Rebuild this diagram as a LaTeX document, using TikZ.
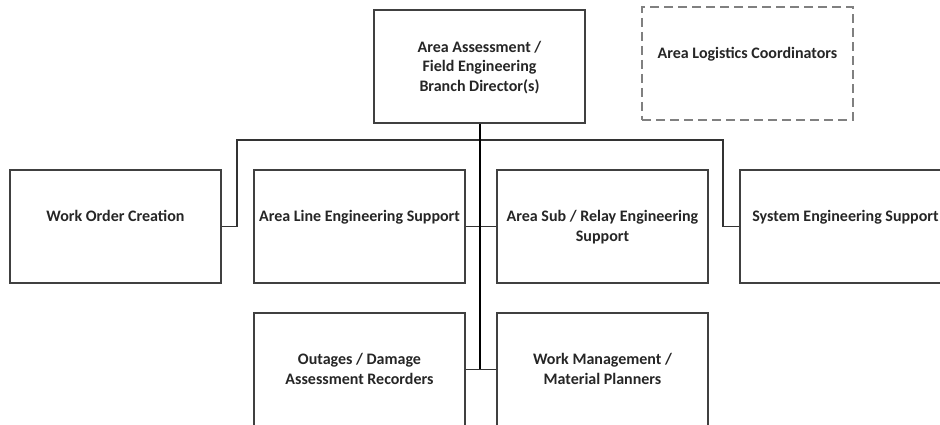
\documentclass[tikz,border=0pt]{standalone}
\usepackage{fontspec}
\setmainfont{Carlito}
\begin{document}
\begin{tikzpicture}[x=1pt,y=1pt,
    orgbox/.style={draw=black!75,line width=1.1pt,minimum width=211pt,minimum height=113pt,inner sep=0pt},
    dashbox/.style={orgbox,draw=black!50,line width=1.5pt,dash pattern=on 9pt off 5pt},
    boxtext/.style={anchor=north,yshift=-38pt,align=center,inner sep=3pt,font=\bfseries\fontsize{16}{19.5}\selectfont,text=black!85},
    link/.style={draw=black!80,line width=1.3pt},
    trunk/.style={draw=black,line width=2pt}]
    \useasboundingbox (0,0) rectangle (940,425);
    \clip (0,0) rectangle (940,425);
    \fill[white] (0,0) rectangle (940,425);
    \node[orgbox,label={[boxtext,yshift=9.5pt]north:Area Assessment /\\Field Engineering\\Branch Director(s)}] (dir) at (479.5,358.5) {};
    \node[dashbox,label={[boxtext]north:Area Logistics Coordinators}] (alc) at (747.5,361.5) {};
    \node[orgbox,label={[boxtext]north:Work Order Creation}] (woc) at (115.5,198.5) {};
    \node[orgbox,label={[boxtext]north:Area Line Engineering Support}] (ales) at (359.5,198.5) {};
    \node[orgbox,label={[boxtext]north:Area Sub / Relay Engineering\\Support}] (asre) at (602.5,198.5) {};
    \node[orgbox,label={[boxtext]north:System Engineering Support}] (ses) at (845.5,198.5) {};
    \node[orgbox,label={[boxtext]north:Outages / Damage\\Assessment Recorders}] (odar) at (359.5,55.5) {};
    \node[orgbox,label={[boxtext]north:Work Management /\\Material Planners}] (wmmp) at (602.5,55.5) {};
    \coordinate (busL) at (237,285);
    \coordinate (busR) at (723,285);
    \draw[link] (woc.east) -| (busL) -- (busR) |- (ses.west);
    \draw[link] (ales.east) -- (asre.west);
    \draw[link] (odar.east) -- (wmmp.west);
    \draw[trunk] (dir.south) -- (dir.south |- odar.east);
\end{tikzpicture}
\end{document}
